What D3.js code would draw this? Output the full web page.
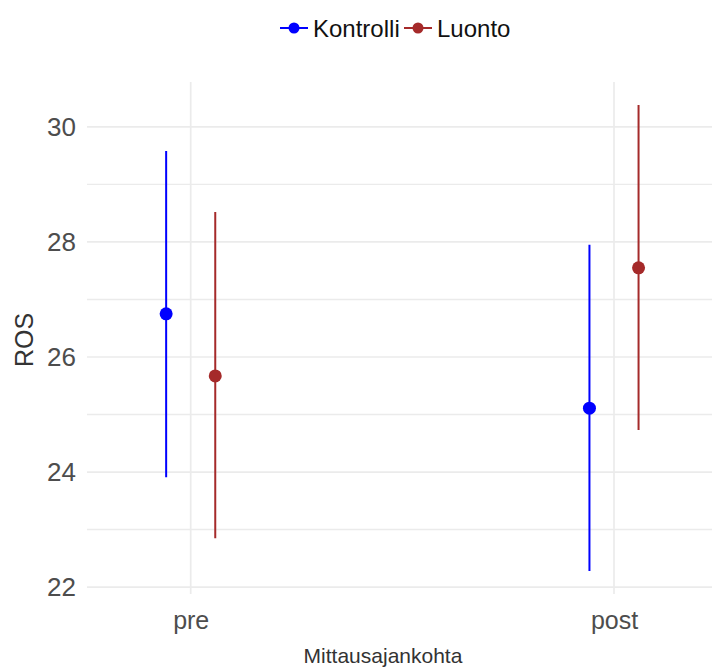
<!DOCTYPE html>
<html><head><meta charset="utf-8">
<script src="https://cdn.jsdelivr.net/npm/d3@7"></script>
<style>body{margin:0;background:#fff}svg{display:block}text{font-family:"Liberation Sans",Arial,sans-serif}</style>
</head><body><svg id="c" width="712" height="667"></svg>
<script>
const categories = ["pre", "post"];
const groups = ["Kontrolli", "Luonto"];
const colors = ["#0000FF", "#A52A2A"];
const kontrolliMean = [26.75, 25.11];
const kontrolliLow = [23.91, 22.28];
const kontrolliHigh = [29.58, 27.95];
const luontoMean = [25.67, 27.55];
const luontoLow = [22.85, 24.73];
const luontoHigh = [28.52, 30.38];
const yTicks = [22, 24, 26, 28, 30];
const yMinor = [23, 25, 27, 29];

const series = [
  {name: groups[0], color: colors[0], mean: kontrolliMean, low: kontrolliLow, high: kontrolliHigh, off: -0.058},
  {name: groups[1], color: colors[1], mean: luontoMean, low: luontoLow, high: luontoHigh, off: 0.058}
];

const svg = d3.select("#c");
const panel = {left: 87, right: 712, top: 82, bottom: 594};
const y = d3.scaleLinear().domain([21.88, 30.78]).range([panel.bottom, panel.top]);
const x = d3.scaleLinear().domain([0, 1]).range([190.7, 614]);

// grid
const g = svg.append("g");
g.selectAll(".minor").data(yMinor).join("line")
  .attr("x1", panel.left).attr("x2", panel.right)
  .attr("y1", d => y(d)).attr("y2", d => y(d))
  .attr("stroke", "#ebebeb").attr("stroke-width", 1.4);
g.selectAll(".major").data(yTicks).join("line")
  .attr("x1", panel.left).attr("x2", panel.right)
  .attr("y1", d => y(d)).attr("y2", d => y(d))
  .attr("stroke", "#ebebeb").attr("stroke-width", 1.7);
g.selectAll(".vmajor").data(categories).join("line")
  .attr("x1", (d, i) => x(i)).attr("x2", (d, i) => x(i))
  .attr("y1", panel.top).attr("y2", panel.bottom)
  .attr("stroke", "#ebebeb").attr("stroke-width", 1.7);

// axes (text only)
const yAxis = d3.axisLeft(y).tickValues(yTicks).tickSize(0).tickPadding(11);
const ya = svg.append("g").attr("transform", `translate(${panel.left},0)`).call(yAxis);
ya.select(".domain").remove();
ya.selectAll("text").attr("font-size", 26).attr("fill", "#4d4d4d").attr("font-family", '"Liberation Sans",Arial,sans-serif');

const xb = d3.scaleOrdinal().domain(categories).range(categories.map((d, i) => x(i)));
const xAxis = d3.axisBottom(xb).tickSize(0).tickPadding(17);
const xa = svg.append("g").attr("transform", `translate(0,${panel.bottom})`).call(xAxis);
xa.select(".domain").remove();
xa.selectAll("text").attr("font-size", 25).attr("fill", "#4d4d4d").attr("font-family", '"Liberation Sans",Arial,sans-serif');

// titles
svg.append("text").attr("x", 383).attr("y", 663).attr("text-anchor", "middle")
  .attr("font-size", 21).attr("fill", "#333").text("Mittausajankohta");
svg.append("text").attr("transform", "translate(33,340) rotate(-90)").attr("text-anchor", "middle")
  .attr("font-size", 25).attr("fill", "#333").text("ROS");

// data
series.forEach(s => {
  const sg = svg.append("g");
  sg.selectAll("line").data(categories).join("line")
    .attr("x1", (d, i) => x(i + s.off)).attr("x2", (d, i) => x(i + s.off))
    .attr("y1", (d, i) => y(s.low[i])).attr("y2", (d, i) => y(s.high[i]))
    .attr("stroke", s.color).attr("stroke-width", 2);
  sg.selectAll("circle").data(categories).join("circle")
    .attr("cx", (d, i) => x(i + s.off)).attr("cy", (d, i) => y(s.mean[i]))
    .attr("r", 6.5).attr("fill", s.color);
});

// legend
const legX = [280, 404];
const lg = svg.append("g");
series.forEach((s, i) => {
  const l = lg.append("g").attr("transform", `translate(${legX[i]},28)`);
  l.append("line").attr("x1", 0).attr("x2", 28).attr("y1", 0).attr("y2", 0).attr("stroke", s.color).attr("stroke-width", 2);
  l.append("circle").attr("cx", 14).attr("cy", 0).attr("r", 5.5).attr("fill", s.color);
  l.append("text").attr("x", 33).attr("y", 9).attr("font-size", 24).attr("fill", "#111").text(s.name);
});
</script></body></html>
